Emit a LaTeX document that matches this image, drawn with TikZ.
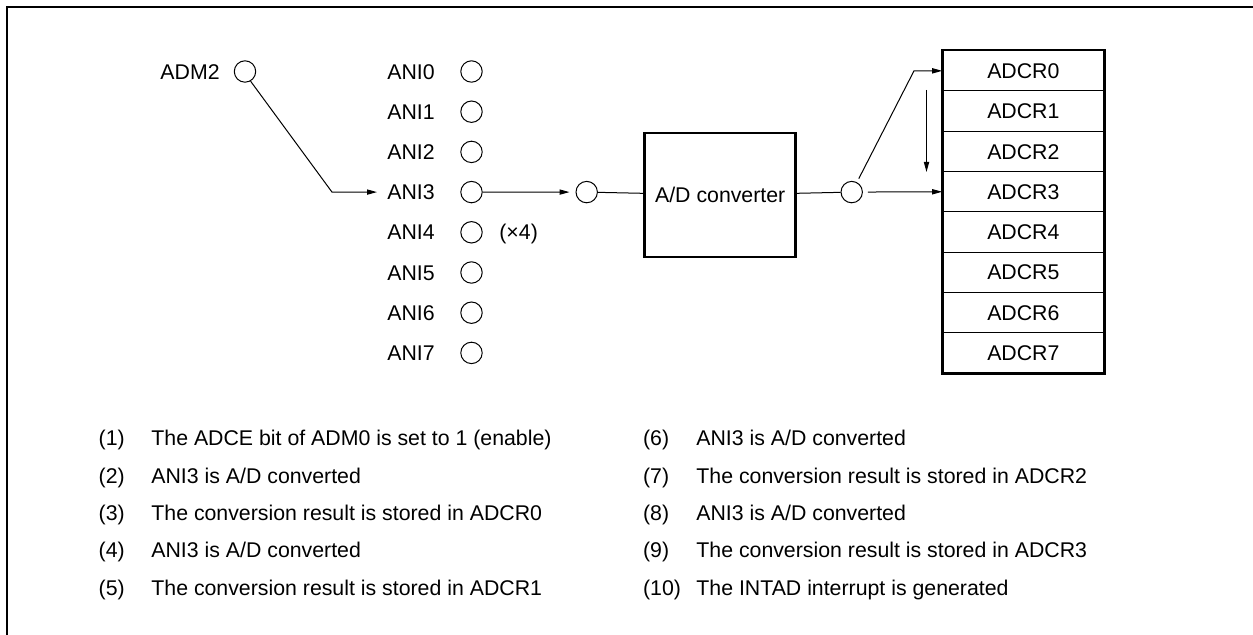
\documentclass[tikz,border=0pt]{standalone}
\usepackage{fontspec}
\setmainfont{Liberation Sans}
\usetikzlibrary{arrows.meta}
\begin{document}
\begin{tikzpicture}[x=0.5pt,y=-0.5pt,
  every node/.style={font=\fontsize{10.65pt}{12.8pt}\selectfont},
  lbl/.style={inner sep=0pt,text height=7.63pt,text depth=0pt},
  pin/.style={circle,draw,line width=0.5pt,minimum size=10.7pt,inner sep=0pt},
  wire/.style={line width=0.5pt},
  arr/.style={wire,-{Triangle[length=5pt,width=2.6pt]}},
  reg/.style={draw,line width=0.5pt,minimum width=80.65pt,minimum height=20.15pt,inner sep=0pt,text height=7.63pt,text depth=0pt},
  conv/.style={draw,line width=1.3pt,minimum width=75.5pt,minimum height=62pt,inner sep=0pt,text height=7.63pt,text depth=0pt},
  frame/.style={line width=1pt}
]
\useasboundingbox (0,0) rectangle (1253,635);
\draw[frame] (7,635) -- (7,7) -- (1253,7);

% ADM2
\node[lbl,anchor=east] (adm2lab) at (220,71.5) {ADM2};
\node[pin] (adm2) at (245,71.5) {};

% analog inputs
\foreach \i in {0,...,7}{
  \node[lbl,anchor=west] (al\i) at (387,71.5+40.2*\i) {ANI\i};
  \node[pin] (ap\i) at (471.5,71.5+40.2*\i) {};
}
\node[lbl,anchor=west] (x4) at (499,232.3) {(×4)};

% selector
\coordinate (bend) at (332,192.1);
\draw[arr] (adm2.-60) -- (bend) -- ([xshift=-5pt]al3.west);

% converter chain
\node[pin] (mid) at (586.7,192.1) {};
\node[conv] (adc) at (720.2,195) {A/D converter};
\node[pin] (out) at (851.7,192.1) {};
\draw[arr,shorten >=3pt] (ap3) -- (mid);
\draw[wire] (mid) -- (adc);
\draw[wire] (adc) -- (out);

% result registers
\foreach \i in {0,...,7}{
  \node[reg] (r\i) at (1023.35,70.85+40.3*\i) {ADCR\i};
}
\draw[line width=1.3pt] (r0.north west) rectangle (r7.south east);

\coordinate (kink) at (914,70.85);
\draw[arr,shorten <=2pt] (out.62) -- (kink) -- (r0.west);
\draw[arr,shorten <=2.5pt] (out) -- (r3.west);
\coordinate (v1) at (926.5,90);
\coordinate (v2) at (926.5,172);
\draw[arr] (v1) -- (v2);

% legend
\foreach \n/\t [count=\k from 0] in {
  1/{The ADCE bit of ADM0 is set to 1 (enable)},
  2/{ANI3 is A/D converted},
  3/{The conversion result is stored in ADCR0},
  4/{ANI3 is A/D converted},
  5/{The conversion result is stored in ADCR1}}{
  \node[lbl,anchor=west] (ln\n) at (98.3,438+37.4*\k) {(\n)};
  \node[lbl,anchor=west] (lt\n) at (151,438+37.4*\k) {\t};
}
\foreach \n/\t [count=\k from 0] in {
  6/{ANI3 is A/D converted},
  7/{The conversion result is stored in ADCR2},
  8/{ANI3 is A/D converted},
  9/{The conversion result is stored in ADCR3},
  10/{The INTAD interrupt is generated}}{
  \node[lbl,anchor=west] (ln\n) at (642.7,438+37.4*\k) {(\n)};
  \node[lbl,anchor=west] (lt\n) at (696,438+37.4*\k) {\t};
}
\end{tikzpicture}
\end{document}
